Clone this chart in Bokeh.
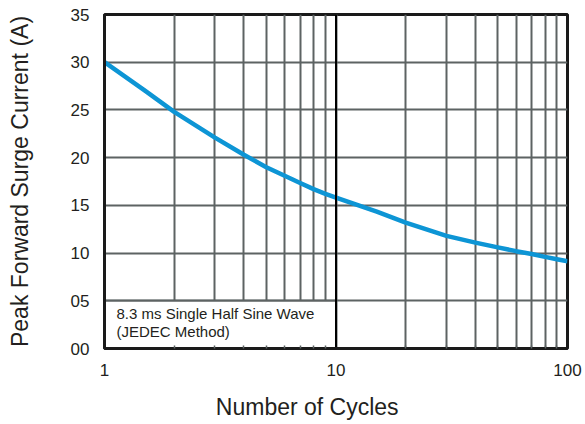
from bokeh.plotting import figure
from bokeh.models import FixedTicker, Span, Label, ColumnDataSource
from bokeh.embed import file_html
from bokeh.resources import INLINE

# ---- data ----
cycles = [1, 1.5, 2, 3, 4, 5, 6, 7, 8, 9, 10, 15, 20, 30, 40, 50, 60, 70, 80, 90, 100]
current = [30.0, 27.0, 24.8, 22.1, 20.3, 19.0, 18.1, 17.35, 16.7, 16.2, 15.8, 14.35,
           13.2, 11.8, 11.1, 10.6, 10.2, 9.9, 9.6, 9.35, 9.15]

x_major_ticks = [1, 10, 100]
x_minor_ticks = [2, 3, 4, 5, 6, 7, 8, 9, 20, 30, 40, 50, 60, 70, 80, 90]
x_tick_labels = ["1", "10", "100"]
y_ticks = [0, 5, 10, 15, 20, 25, 30, 35]
y_tick_labels = ["00", "05", "10", "15", "20", "25", "30", "35"]

note_box = dict(left=[1], right=[10], bottom=[0], top=[5])
note_lines = ["8.3 ms Single Half Sine Wave", "(JEDEC Method)"]
x_title = "Number of Cycles"
y_title = "Peak Forward Surge Current (A)"

FONT = "Liberation Sans"
TXT = "#231f20"
GRID = "#5d6363"
BLUE = "#0d95d5"

p = figure(width=585, height=424, x_axis_type="log", x_range=(1, 100), y_range=(0, 35),
           output_backend="svg", toolbar_location=None,
           min_border_left=104, min_border_right=18, min_border_top=14, min_border_bottom=76)
p.background_fill_color = "white"
p.border_fill_color = "white"
p.outline_line_color = "#1a1a1a"
p.outline_line_width = 3

# ticks
p.xaxis.ticker = FixedTicker(ticks=x_major_ticks, minor_ticks=x_minor_ticks)
p.xaxis.major_label_overrides = {t: l for t, l in zip(x_major_ticks, x_tick_labels)}
p.yaxis.ticker = FixedTicker(ticks=y_ticks)
p.yaxis.major_label_overrides = {t: l for t, l in zip(y_ticks, y_tick_labels)}

for ax in (p.xaxis[0], p.yaxis[0]):
    ax.axis_line_color = "#1a1a1a"
    ax.axis_line_width = 3
    ax.major_tick_in = 0
    ax.major_tick_out = 0
    ax.major_label_text_font = FONT
    ax.major_label_text_font_size = "17px"
    ax.major_label_text_color = TXT
    ax.axis_label_text_font = FONT
    ax.axis_label_text_font_style = "normal"
    ax.axis_label_text_color = TXT

p.xaxis.major_label_standoff = 15
p.yaxis.major_label_standoff = 15

p.yaxis.minor_tick_line_color = None
p.xaxis.minor_tick_in = 3
p.xaxis.minor_tick_out = 0
p.xaxis.minor_tick_line_color = GRID
p.xaxis.minor_tick_line_width = 1.5

# the reference title sits ~29px left of the frame centre; trailing no-break spaces shift it
p.xaxis.axis_label = x_title + "\u00a0" * 9
p.xaxis.axis_label_text_font_size = "23px"
p.xaxis.axis_label_standoff = 15
p.yaxis.axis_label = y_title
p.yaxis.axis_label_text_font_size = "23px"
p.yaxis.axis_label_standoff = 35

# grid
p.xgrid.grid_line_color = GRID
p.xgrid.grid_line_width = 2
p.xgrid.minor_grid_line_color = GRID
p.xgrid.minor_grid_line_width = 2
p.ygrid.grid_line_color = GRID
p.ygrid.grid_line_width = 2

# note box
p.quad(source=ColumnDataSource(note_box), left="left", right="right", bottom="bottom", top="top",
       fill_color="white", line_color=GRID, line_width=2)

# black decade line at 10
p.add_layout(Span(location=x_major_ticks[1], dimension="height", line_color="black",
                  line_width=2, level="glyph"))

# curve
p.line(cycles, current, line_color=BLUE, line_width=4.5, line_join="round")

# note text
for i, t in enumerate(note_lines):
    p.add_layout(Label(x=note_box["left"][0], y=note_box["bottom"][0], x_offset=12,
                       y_offset=35 - 18 * i, text=t, text_font=FONT, text_font_size="15px",
                       text_color=TXT, text_baseline="middle"))

open("out.html", "w").write(file_html(p, INLINE))
